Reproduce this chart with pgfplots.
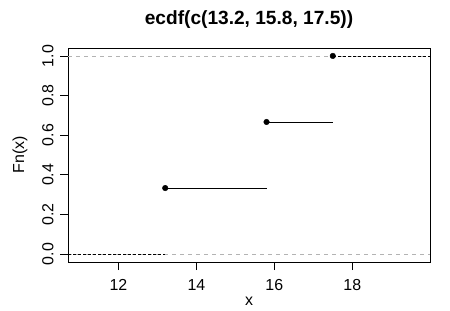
\documentclass[border=0pt]{standalone}
\usepackage{fontspec}
\setmainfont{Liberation Sans}
\usepackage{pgfplots}
\pgfplotsset{compat=1.18}
\definecolor{gseventy}{HTML}{B3B3B3}
\begin{document}
\begin{tikzpicture}[x=1bp,y=1bp]
\path[use as bounding box] (0,0) rectangle (450,310);
\begin{axis}[
  at={(68bp,48bp)}, anchor=south west,
  scale only axis, width=362bp, height=214bp,
  xmin=10.706, xmax=19.994, ymin=-0.04, ymax=1.04,
  axis line style={black, line width=0.9pt},
  xtick={12,14,16,18}, ytick={0,0.2,0.4,0.6,0.8,1.0},
  yticklabels={0.0,0.2,0.4,0.6,0.8,1.0},
  /pgf/number format/assume math mode=true,
  tick align=outside, tick pos=left,
  major tick length=8bp,
  every tick/.style={black, line width=0.7pt},
  tick label style={font=\fontsize{16}{18}\selectfont, inner sep=0pt},
  xticklabel style={anchor=base},
  yticklabel style={rotate=90, anchor=base},
  xticklabel shift=20.7bp,
  yticklabel shift=6.7bp,
  xlabel={x}, ylabel={Fn(x)},
  label style={font=\fontsize{16}{18}\selectfont, inner sep=0pt},
  xlabel style={at={(axis description cs:0.5,0)}, anchor=base, yshift=-43.7bp},
  ylabel style={at={(axis description cs:-0.1215,0.5)}, anchor=base, rotate=0},
  title={ecdf(c(13.2, 15.8, 17.5))},
  title style={font=\bfseries\fontsize{19.2}{22}\selectfont, inner sep=0pt, at={(axis description cs:0.5,1)}, anchor=base, yshift=17.3bp},
  clip=true,
]
\addplot[gseventy, line width=0.7pt, dash pattern=on 4bp off 4bp, forget plot] coordinates {(10.706,0) (19.994,0)};
\addplot[gseventy, line width=0.7pt, dash pattern=on 4bp off 4bp, forget plot] coordinates {(10.706,1) (19.994,1)};
\addplot[black, line width=0.7pt, dash pattern=on 3bp off 2bp] coordinates {(10.706,0) (13.2,0)};
\addplot[black, line width=0.7pt] coordinates {(13.2,0.33333) (15.8,0.33333)};
\addplot[black, line width=0.7pt] coordinates {(15.8,0.66667) (17.5,0.66667)};
\addplot[black, line width=0.7pt, dash pattern=on 3bp off 2bp] coordinates {(17.5,1) (19.994,1)};
\addplot[only marks, mark=*, mark size=2.8bp, black] coordinates {(13.2,0.33333) (15.8,0.66667) (17.5,1)};
\end{axis}
\end{tikzpicture}
\end{document}
